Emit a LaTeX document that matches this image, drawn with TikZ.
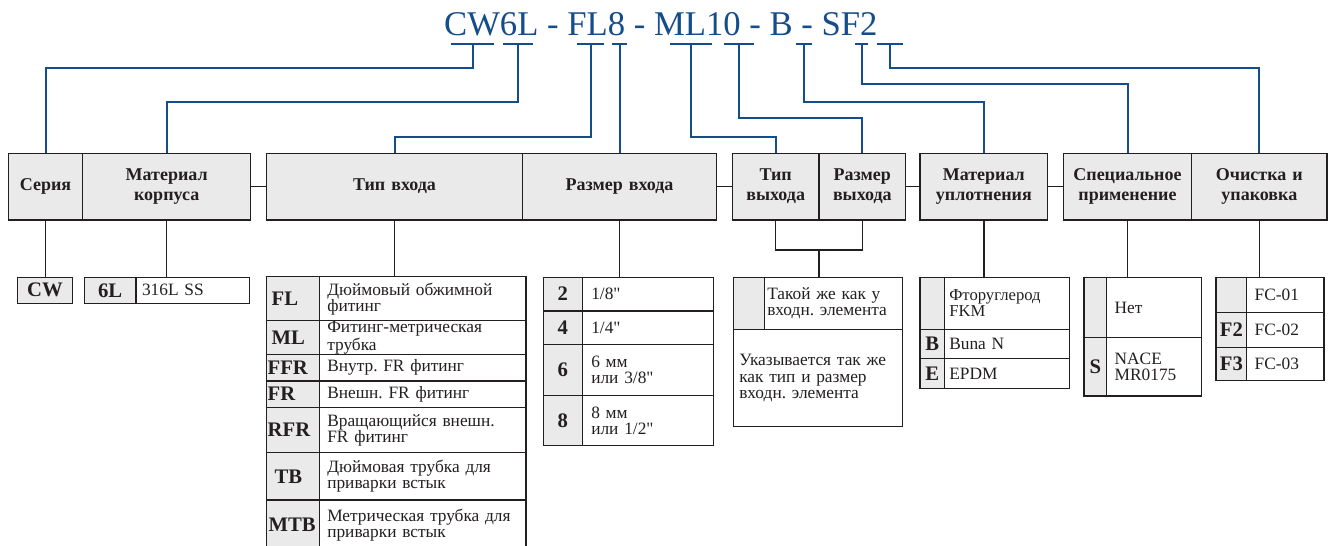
\documentclass[tikz,border=0pt]{standalone}
\usepackage{fontspec}
\setmainfont{Liberation Serif}[Ligatures=TeXOff]
\frenchspacing
\definecolor{bl}{RGB}{20,76,140}
\definecolor{lc}{RGB}{35,31,32}
\definecolor{hg}{RGB}{234,234,234}
\newcommand\inch{"}
\newcommand\tcell[8]{%
  \pgfmathsetmacro\tcw{(#5-#3)*0.75}%
  \pgfmathsetmacro\tch{(#6-#4)*0.75}%
  \pgfmathsetmacro\tcp{#7*0.75}%
  \pgfmathsetmacro\tct{\tcw-2*\tcp}%
  \node[#1, minimum width=\tcw pt, minimum height=\tch pt, inner xsep=\tcp pt, inner ysep=0pt, text width=\tct pt] (#2) at ({(#3+#5)/2},{(#4+#6)/2}) {#8};}
\newcommand\tbar[3]{%
  \pgfmathsetmacro\tbw{(#3-#2)*0.75}%
  \node[titlebar, minimum width=\tbw pt] (#1) at ({(#2+#3)/2},44) {};}
\tikzset{
  hdr/.style={draw=lc, fill=hg, line width=1pt, align=center, text=lc, font=\fontsize{13.5}{15}\selectfont\bfseries},
  codec/.style={draw=lc, fill=hg, line width=1pt, align=center, text=lc, font=\fontsize{15.5}{16}\selectfont\bfseries},
  codel/.style={codec, align=left},
  descc/.style={draw=lc, fill=white, line width=1pt, align=left, text=lc, font=\fontsize{13}{12}\selectfont},
  conn/.style={draw=lc, line width=1pt},
  blueline/.style={draw=bl, line width=1.5pt},
  titlebar/.style={fill=bl, inner sep=0pt, minimum height=1.5pt},
}
\begin{document}
\begin{tikzpicture}[x=0.75pt,y=-0.75pt]
\useasboundingbox (0,0) rectangle (1328,546);
% title
\node[anchor=base, text=bl, font=\fontsize{26}{30}\selectfont, inner sep=0pt] (title) at (660.8,36) {CW6L - FL8 - ML10 - B - SF2};
\tbar{s1}{451}{494}
\tbar{s2}{503}{533}
\tbar{s3}{577}{604}
\tbar{s4}{612}{627}
\tbar{s5}{670}{711.7}
\tbar{s6}{724}{754}
\tbar{s7}{796}{811.7}
\tbar{s8}{855}{868}
\tbar{s9}{876.7}{903}
% header
\tcell{hdr}{ser}{8.3}{153.3}{82.7}{220}{2}{Серия}
\tcell{hdr}{mat}{82.7}{153.3}{250.7}{220}{2}{Материал\\корпуса}
\tcell{hdr}{tin}{266.7}{153.3}{522.3}{220}{2}{Тип входа}
\tcell{hdr}{rin}{522.3}{153.3}{716.7}{220}{2}{Размер входа}
\tcell{hdr}{tout}{732.3}{153.3}{819}{220}{2}{Тип\\выхода}
\tcell{hdr}{sout}{819}{153.3}{905.7}{220}{2}{Размер\\выхода}
\tcell{hdr}{mu}{920}{153.3}{1047.7}{220}{2}{Материал\\уплотнения}
\tcell{hdr}{sp}{1063.3}{153.3}{1191.7}{220}{2}{Специальное\\применение}
\tcell{hdr}{oc}{1191.7}{153.3}{1327}{220}{2}{Очистка и\\упаковка}
\draw[conn] (mat.east) -- (tin.west);
\draw[conn] (rin.east) -- (tout.west);
\draw[conn] (sout.east) -- (mu.west);
\draw[conn] (mu.east) -- (sp.west);
% blue connectors
\draw[blueline] (s1.center) -- ++(0,23.7) -| (ser.north);
\draw[blueline] (s2.center) -- ++(0,57.7) -| (mat.north);
\draw[blueline] (s3.center) -- ++(0,92.7) -| (tin.north);
\draw[blueline] (s4.center) -- (s4.center |- rin.north);
\draw[blueline] (s5.center) -- ++(0,92.7) -| (tout.north);
\draw[blueline] (s6.center) -- ++(0,74.3) -| (sout.north);
\draw[blueline] (s7.center) -- ++(0,57.7) -| (mu.north);
\draw[blueline] (s8.center) -- ++(0,40.3) -| (sp.north);
\draw[blueline] (s9.center) -- ++(0,23.7) -| (oc.north);
% series / body material
\tcell{codec}{cw}{17.3}{277.3}{72.7}{303.3}{0}{CW}
\tcell{codec}{c6l}{84.3}{277.3}{136}{303.3}{0}{6L}
\tcell{descc}{d6l}{136}{277.3}{249.3}{303.3}{6}{316L SS}
% inlet type
\tcell{codel}{fl}{266.7}{276.7}{319.3}{320.7}{5}{FL}
\tcell{descc}{fld}{319.3}{276.7}{526}{320.7}{8}{Дюймовый обжимной\\фитинг}
\tcell{codel}{ml}{266.7}{320.7}{319.3}{354.3}{5}{ML}
\tcell{descc}{mld}{319.3}{320.7}{526}{354.3}{8}{Фитинг-метрическая\\трубка}
\tcell{codel}{ffr}{266.7}{354.3}{319.3}{381}{1}{FFR}
\tcell{descc}{ffrd}{319.3}{354.3}{526}{381}{8}{Внутр. FR фитинг}
\tcell{codel}{fr}{266.7}{381}{319.3}{407.3}{1}{FR}
\tcell{descc}{frd}{319.3}{381}{526}{407.3}{8}{Внешн. FR фитинг}
\tcell{codel}{rfr}{266.7}{407.3}{319.3}{452.7}{1}{RFR}
\tcell{descc}{rfrd}{319.3}{407.3}{526}{452.7}{8}{Вращающийся внешн.\\FR фитинг}
\tcell{codel}{tb}{266.7}{452.7}{319.3}{500}{8}{TB}
\tcell{descc}{tbd}{319.3}{452.7}{526}{500}{8}{\fontsize{13}{13}\selectfont Дюймовая трубка для\\приварки встык}
\tcell{codel}{mtb}{266.7}{500}{319.3}{550}{2}{MTB}
\tcell{descc}{mtbd}{319.3}{500}{526}{550}{8}{\fontsize{13}{11.5}\selectfont Метрическая трубка для\\приварки встык}
% inlet size
\tcell{codec}{r2}{543.3}{277.3}{582.3}{311}{0}{2}
\tcell{descc}{r2d}{582.3}{277.3}{713.3}{311}{9}{1/8\inch}
\tcell{codec}{r4}{543.3}{311}{582.3}{344.3}{0}{4}
\tcell{descc}{r4d}{582.3}{311}{713.3}{344.3}{9}{1/4\inch}
\tcell{codec}{r6}{543.3}{344.3}{582.3}{395.7}{0}{6}
\tcell{descc}{r6d}{582.3}{344.3}{713.3}{395.7}{9}{\fontsize{13}{10.5}\selectfont 6 мм\\или 3/8\inch}
\tcell{codec}{r8}{543.3}{395.7}{582.3}{445.3}{0}{8}
\tcell{descc}{r8d}{582.3}{395.7}{713.3}{445.3}{9}{\fontsize{13}{10.5}\selectfont 8 мм\\или 1/2\inch}
% outlet
\tcell{codec}{to1}{733.3}{277.3}{764.3}{329.3}{0}{}
\tcell{descc}{to1d}{764.3}{277.3}{902.3}{329.3}{3}{Такой же как у\\входн. элемента}
\tcell{descc}{to2}{733.3}{329.3}{902.3}{426.7}{6}{\fontsize{13}{12.5}\selectfont Указывается так же\\как тип и размер\\входн. элемента\\[14pt]}
\coordinate (jn) at (819,250);
\draw[conn] (tout.south) |- (jn) -| (sout.south);
\draw[conn] (jn) -- (jn |- to1d.north);
% connectors to tables
\draw[conn] (ser.south) -- (ser.south |- cw.north);
\draw[conn] (mat.south) -- (mat.south |- c6l.north);
\draw[conn] (tin.south) -- (tin.south |- fld.north);
\draw[conn] (rin.south) -- (rin.south |- r2d.north);
% seal material
\tcell{codec}{m1}{920}{277.3}{944.3}{329.3}{0}{}
\tcell{descc}{m1d}{944.3}{277.3}{1069.3}{329.3}{5}{\fontsize{12.5}{10}\selectfont Фторуглерод\\FKM}
\tcell{codec}{m2}{920}{329.3}{944.3}{358.7}{0}{B}
\tcell{descc}{m2d}{944.3}{329.3}{1069.3}{358.7}{5}{Buna N}
\tcell{codec}{m3}{920}{358.7}{944.3}{388.3}{0}{E}
\tcell{descc}{m3d}{944.3}{358.7}{1069.3}{388.3}{5}{EPDM}
\draw[conn] (mu.south) -- (mu.south |- m1d.north);
% special application
\tcell{codec}{p1}{1084}{277.3}{1106.7}{337.7}{0}{}
\tcell{descc}{p1d}{1106.7}{277.3}{1201.7}{337.7}{8}{Нет}
\tcell{codec}{p2}{1084}{337.7}{1106.7}{396}{0}{S}
\tcell{descc}{p2d}{1106.7}{337.7}{1201.7}{396}{8}{\fontsize{13}{10.5}\selectfont NACE\\MR0175}
\draw[conn] (sp.south) -- (sp.south |- p1d.north);
% cleaning
\tcell{codec}{q1}{1216}{277.3}{1246.7}{312.3}{0}{}
\tcell{descc}{q1d}{1246.7}{277.3}{1324}{312.3}{8}{FC-01}
\tcell{codec}{q2}{1216}{312.3}{1246.7}{347.3}{0}{F2}
\tcell{descc}{q2d}{1246.7}{312.3}{1324}{347.3}{8}{FC-02}
\tcell{codec}{q3}{1216}{347.3}{1246.7}{380.7}{0}{F3}
\tcell{descc}{q3d}{1246.7}{347.3}{1324}{380.7}{8}{FC-03}
\draw[conn] (oc.south) -- (oc.south |- q1d.north);
\end{tikzpicture}
\end{document}
